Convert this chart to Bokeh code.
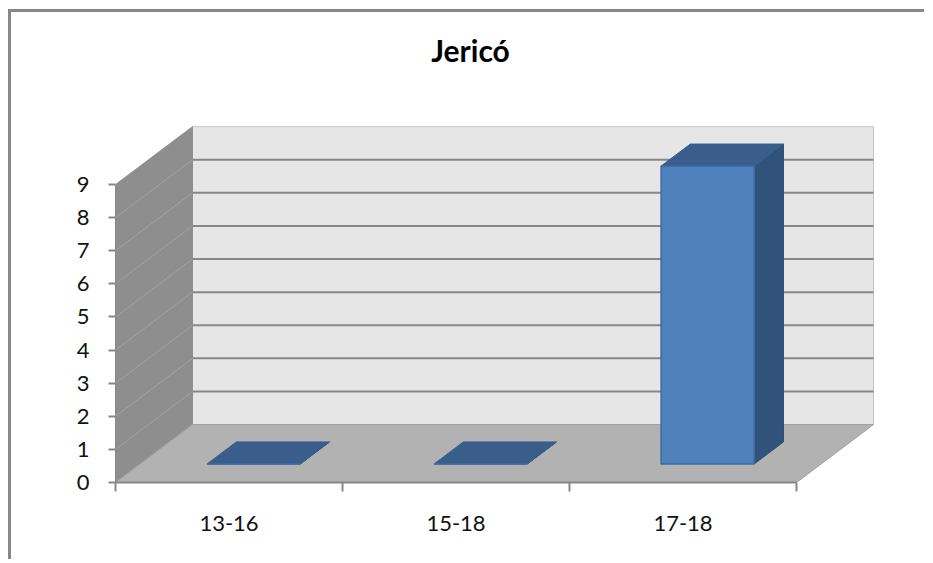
from bokeh.plotting import figure
from bokeh.models import FixedTicker, Label
from bokeh.embed import file_html
from bokeh.resources import INLINE

# --- data ---
categories = ["13-16", "15-18", "17-18"]
counts = [0, 0, 9]
y_ticks = [0, 1, 2, 3, 4, 5, 6, 7, 8, 9]
title_text = "Jericó"

# --- 3D projection: a point at depth d (0 = front, 1 = back) is shifted by d*(DX, DY) ---
DX = 0.339          # category units per unit of depth
DY = 1.75           # value units per unit of depth
BAR_W = 0.41        # bar width as a fraction of a category slot
D0, D1 = 0.32, 0.70 # front and back depth of the bars
n = len(categories)
vmax = y_ticks[-1]

FONT = "Lato"

# the frame reaches up to the title so the title can sit inside it
p = figure(width=916, height=550, output_backend="svg", toolbar_location=None,
           x_range=(0, 3.414), y_range=(0, 13.746),
           min_border_left=104, min_border_right=37,
           min_border_top=15, min_border_bottom=80)
p.styles = {"margin-left": "8px", "margin-top": "9px",
            "border-left": "3px solid #878787", "border-top": "3px solid #878787"}
p.outline_line_color = None
p.background_fill_color = "white"
p.border_fill_color = "white"
p.xgrid.visible = False
p.ygrid.visible = False

def proj(x, y, d):
    return x + d * DX, y + d * DY

# walls and floor
bx0, by0 = proj(0, 0, 1)
bx1, by1 = proj(n, 0, 1)
p.patch([bx0, bx1, bx1, bx0], [by0, by1, by1 + vmax, by0 + vmax],
        fill_color="#e6e6e6", line_color="#c4c4c4", line_width=1)
p.patch([0, bx0, bx0, 0], [0, by0, by0 + vmax, vmax],
        fill_color="#8e8e8e", line_color="#8e8e8e", line_width=1)
p.patch([0, n, bx1, bx0], [0, 0, by1, by0],
        fill_color="#b2b2b2", line_color="#a0a0a0", line_width=1)

# gridlines on the back wall and their continuation across the side wall
grid_vals = [v for v in y_ticks if 0 < v < vmax]
p.multi_line([[bx0, bx1] for v in grid_vals], [[by0 + v, by1 + v] for v in grid_vals],
             line_color="#878787", line_width=2)
p.multi_line([[0, bx0] for v in grid_vals], [[v, by0 + v] for v in grid_vals],
             line_color="#a2a2a2", line_width=1)

# 3D columns
side_xs, side_ys, top_xs, top_ys, front_xs, front_ys = [], [], [], [], [], []
for i, v in enumerate(counts):
    xl = i + 0.5 - BAR_W / 2
    xr = i + 0.5 + BAR_W / 2
    fl = proj(xl, 0, D0); fr = proj(xr, 0, D0)
    bl = proj(xl, 0, D1); br = proj(xr, 0, D1)
    side_xs.append([fr[0], br[0], br[0], fr[0]])
    side_ys.append([fr[1], br[1], br[1] + v, fr[1] + v])
    top_xs.append([fl[0], fr[0], br[0], bl[0]])
    top_ys.append([fl[1] + v, fr[1] + v, br[1] + v, bl[1] + v])
    front_xs.append([fl[0], fr[0], fr[0], fl[0]])
    front_ys.append([fl[1], fr[1], fr[1] + v, fl[1] + v])

p.patches(side_xs, side_ys, fill_color="#30527b", line_color="#2c4b72", line_width=1)
p.patches(top_xs, top_ys, fill_color="#395e8c", line_color="#395e8c", line_width=1)
p.patches(front_xs, front_ys, fill_color="#4f81bd", line_color="#3d6aa0", line_width=1.5)

# value axis
ya = p.yaxis[0]
ya.ticker = FixedTicker(ticks=y_ticks, minor_ticks=[])
ya.bounds = (0, vmax)
ya.axis_line_color = "#878787"
ya.axis_line_width = 1
ya.major_tick_line_color = "#878787"
ya.major_tick_line_width = 2
ya.major_tick_in = 0
ya.major_tick_out = 7
ya.major_label_standoff = 19
ya.major_label_text_font = FONT
ya.major_label_text_font_size = "22px"
ya.major_label_text_color = "#111111"

# category axis: labels at slot centres, ticks at slot boundaries
xa = p.xaxis[0]
xa.ticker = FixedTicker(ticks=[i + 0.5 for i in range(n)], minor_ticks=list(range(n + 1)))
xa.major_label_overrides = {i + 0.5: c for i, c in enumerate(categories)}
xa.bounds = (0, n)
xa.axis_line_color = "#878787"
xa.axis_line_width = 2
xa.major_tick_line_color = None
xa.major_tick_in = 0
xa.major_tick_out = 0
xa.minor_tick_line_color = "#878787"
xa.minor_tick_line_width = 2
xa.minor_tick_in = 0
xa.minor_tick_out = 9
xa.major_label_standoff = 24
xa.major_label_text_font = FONT
xa.major_label_text_font_size = "22px"
xa.major_label_text_color = "#111111"

# chart title, placed in screen units from the frame's lower-left corner
p.add_layout(Label(x=355, y=433, x_units="screen", y_units="screen", text=title_text,
                   text_font=FONT, text_font_style="bold", text_font_size="30px",
                   text_align="center", text_baseline="middle", text_color="black"))

open("out.html", "w").write(file_html(p, INLINE))
